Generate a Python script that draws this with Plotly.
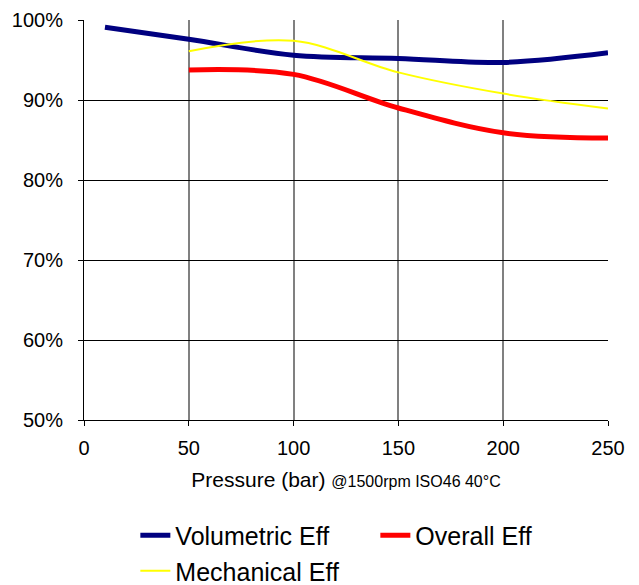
import plotly.graph_objects as go

# Data
vol_x = [10, 50, 100, 150, 200, 250]
vol_y = [99.1, 97.6, 95.6, 95.2, 94.7, 95.9]

ovr_x = [50, 100, 150, 200, 250]
ovr_y = [93.75, 93.2, 89.0, 85.9, 85.25]

mech_x = [50, 100, 150, 200, 250]
mech_y = [96.1, 97.4, 93.45, 90.8, 88.95]

x_ticks = [0, 50, 100, 150, 200, 250]
y_ticks = [50, 60, 70, 80, 90, 100]
y_tick_labels = ["50%", "60%", "70%", "80%", "90%", "100%"]

FONT = "Liberation Sans, Arial, sans-serif"

fig = go.Figure()
fig.add_trace(go.Scatter(x=vol_x, y=vol_y, mode="lines", name="Volumetric Eff",
                         line=dict(color="#000080", width=5, shape="spline", smoothing=1.0)))
fig.add_trace(go.Scatter(x=ovr_x, y=ovr_y, mode="lines", name="Overall Eff",
                         line=dict(color="#FF0000", width=5, shape="spline", smoothing=1.0)))
fig.add_trace(go.Scatter(x=mech_x, y=mech_y, mode="lines", name="Mechanical Eff",
                         line=dict(color="#FFFF00", width=2, shape="spline", smoothing=1.0)))

fig.update_layout(
    width=639, height=585,
    margin=dict(l=84, r=31, t=20, b=165, autoexpand=False),
    paper_bgcolor="white", plot_bgcolor="white",
    font=dict(family=FONT, color="black", size=20),
    showlegend=True,
    legend=dict(orientation="h", x=0.098, xanchor="left", y=-0.2315, yanchor="top",
                font=dict(size=25, family=FONT), entrywidth=195, entrywidthmode="pixels",
                tracegroupgap=0, bgcolor="rgba(0,0,0,0)"),
)

fig.update_xaxes(
    range=[0, 250], tickvals=x_ticks, ticktext=[str(v) for v in x_ticks],
    showgrid=True, gridcolor="#808080", gridwidth=1.5,
    showline=True, linecolor="black", linewidth=1,
    ticks="outside", ticklen=5, tickcolor="black",
    tickfont=dict(size=20), ticklabelstandoff=5,
    zeroline=False, automargin=False,
    title=dict(text="Pressure (bar) <span style='font-size:16px'>@1500rpm ISO46 40°C</span>",
               font=dict(size=21), standoff=14),
)
fig.update_yaxes(
    range=[50, 100], tickvals=y_ticks, ticktext=y_tick_labels,
    showgrid=True, gridcolor="black", gridwidth=1,
    showline=True, linecolor="black", linewidth=1,
    ticks="outside", ticklen=5, tickcolor="black",
    tickfont=dict(size=20), ticklabelstandoff=11,
    zeroline=False, automargin=False,
)

fig.write_html("out.html", config={"displayModeBar": False},
               post_script="document.body.style.margin='0px';")
